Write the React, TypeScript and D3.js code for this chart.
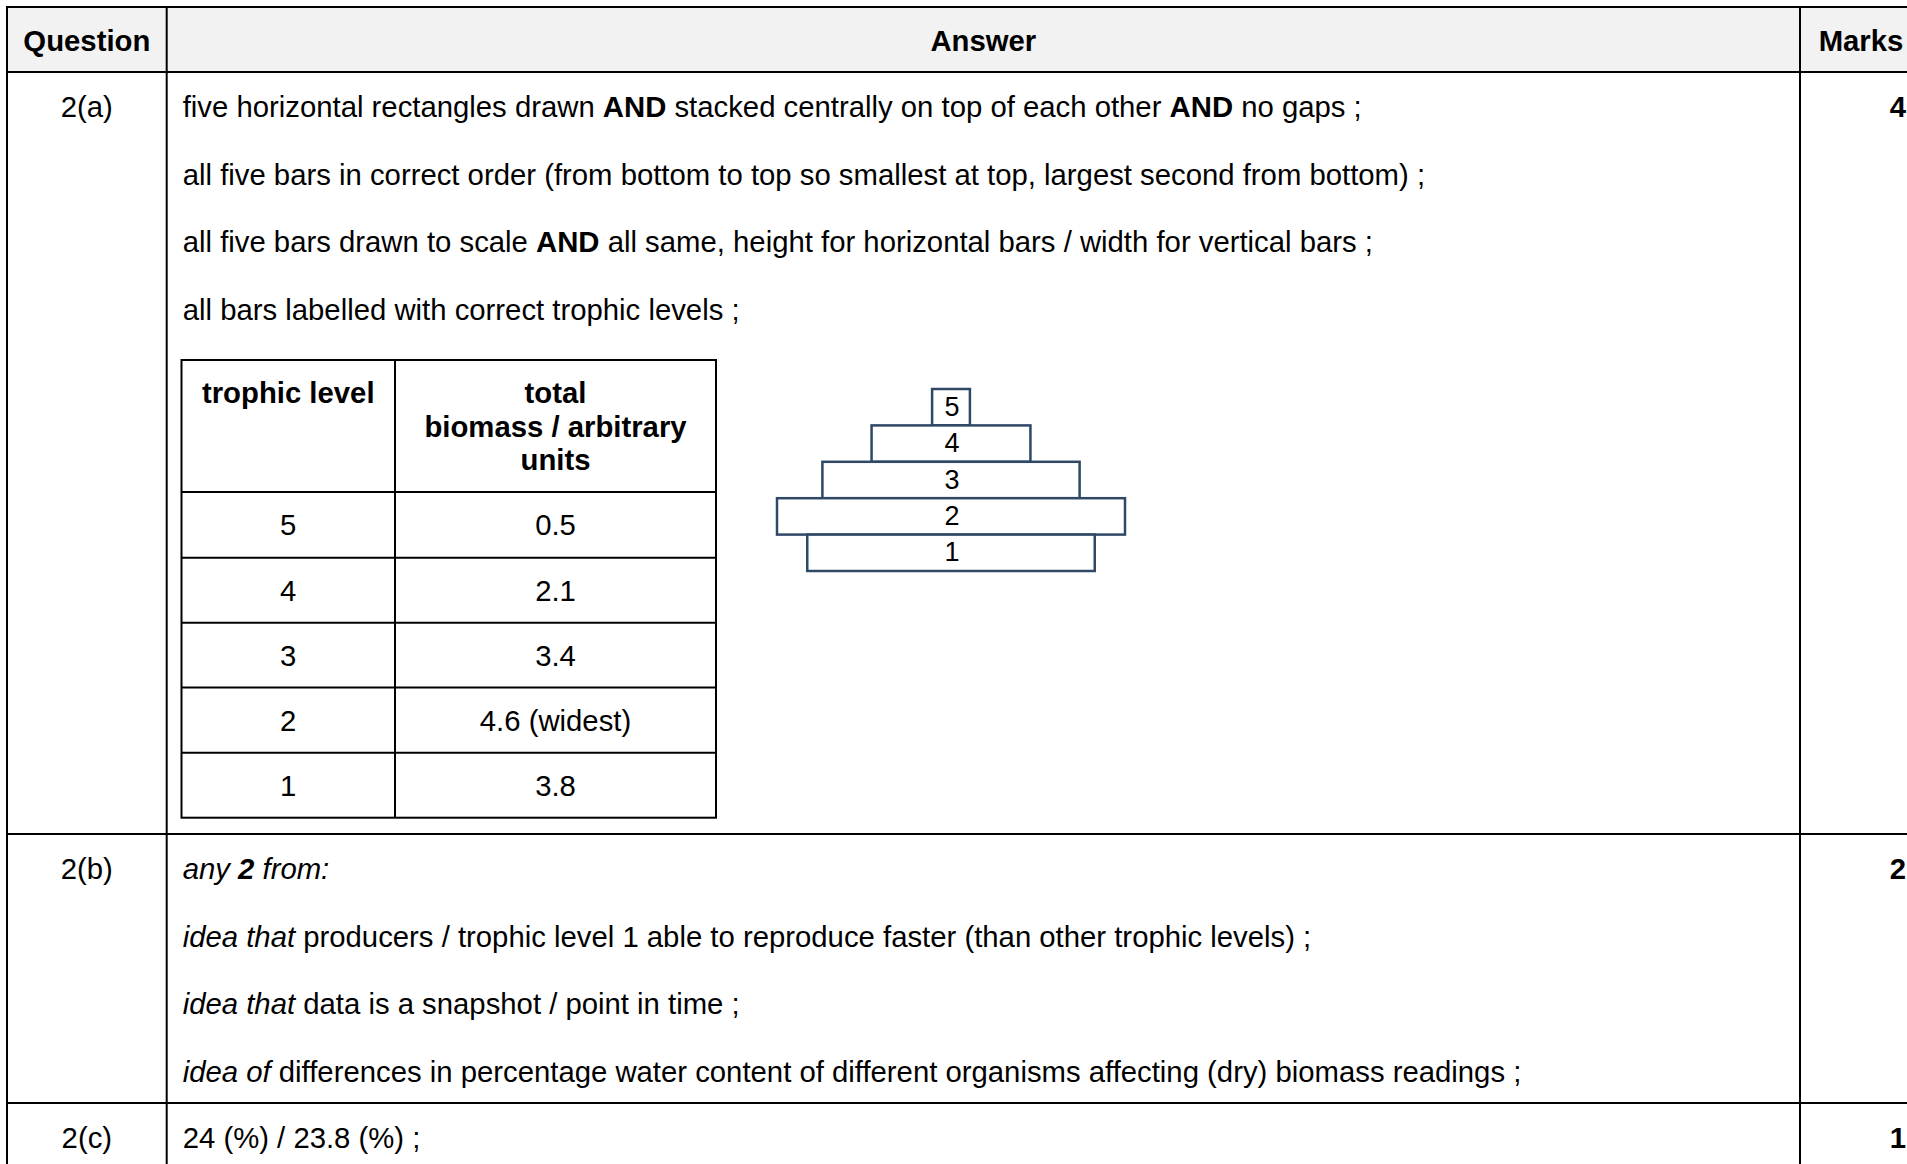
import React from "react";
import * as d3 from "d3";

// pyramid data (top to bottom)
const trophicLevels = [5, 4, 3, 2, 1];
const biomass = [0.5, 2.1, 3.4, 4.6, 3.8];
const biomassLabels = ["0.5", "2.1", "3.4", "4.6 (widest)", "3.8"];

type Seg = { t: string; b?: boolean; i?: boolean };

const headers = ["Question", "Answer", "Marks"];
const questions = ["2(a)", "2(b)", "2(c)"];
const marks = ["4", "2", "1"];

const answers2a: Seg[][] = [
    [
        { t: "five horizontal rectangles drawn " },
        { t: "AND", b: true },
        { t: " stacked centrally on top of each other " },
        { t: "AND", b: true },
        { t: " no gaps ;" }
    ],
    [{ t: "all five bars in correct order (from bottom to top so smallest at top, largest second from bottom) ;" }],
    [
        { t: "all five bars drawn to scale " },
        { t: "AND", b: true },
        { t: " all same, height for horizontal bars / width for vertical bars ;" }
    ],
    [{ t: "all bars labelled with correct trophic levels ;" }]
];

const answers2b: Seg[][] = [
    [{ t: "any ", i: true }, { t: "2", i: true, b: true }, { t: " from:", i: true }],
    [{ t: "idea that", i: true }, { t: " producers / trophic level 1 able to reproduce faster (than other trophic levels) ;" }],
    [{ t: "idea that", i: true }, { t: " data is a snapshot / point in time ;" }],
    [{ t: "idea of", i: true }, { t: " differences in percentage water content of different organisms affecting (dry) biomass readings ;" }]
];

const answers2c: Seg[][] = [[{ t: "24 (%) / 23.8 (%) ;" }]];

const W = 1907;
const H = 1164;
const FONT = "'Liberation Sans', Arial, sans-serif";
const FS = 29.3;

// outer table geometry
const colX = [7, 166.7, 1800, 1922];
const rowY = [7, 72, 834, 1103, 1200];
const lineGap = 67.6;
const firstBase = 45;

const Line: React.FC<{ segs: Seg[]; x: number; y: number }> = ({ segs, x, y }) => (
    <text x={x} y={y} fontSize={FS} fontFamily={FONT} fill="#000">
        {segs.map((s, i) => (
            <tspan key={i} fontWeight={s.b ? "bold" : "normal"} fontStyle={s.i ? "italic" : "normal"}>
                {s.t}
            </tspan>
        ))}
    </text>
);

const App: React.FC = () => {
    const rows = [answers2a, answers2b, answers2c];

    // inner data table
    const tX = [181.5, 395, 716];
    const tY = [360, 492, 557.7, 622.7, 687.5, 752.7, 817.7];

    // pyramid scales
    const cx = 951;
    const xw = d3.scaleLinear().domain([0, d3.max(biomass) || 1]).range([0, 348]);
    const yb = d3.scaleBand<number>().domain(trophicLevels).range([389, 571]).padding(0);

    return (
        <div style={{ position: "fixed", left: 0, top: 0, width: W, height: H, overflow: "hidden", background: "#fff" }}>
            <svg width={W} height={H} style={{ display: "block" }}>
                {/* header fill */}
                <rect x={colX[0]} y={rowY[0]} width={colX[3] - colX[0]} height={rowY[1] - rowY[0]} fill="#f2f2f2" />

                {/* header text */}
                {headers.map((h, i) => (
                    <text
                        key={h}
                        x={(colX[i] + colX[i + 1]) / 2}
                        y={51.2}
                        textAnchor="middle"
                        fontSize={FS}
                        fontWeight="bold"
                        fontFamily={FONT}
                    >
                        {h}
                    </text>
                ))}

                {/* body rows */}
                {rows.map((lines, r) => {
                    const top = rowY[r + 1];
                    return (
                        <g key={r}>
                            <text
                                x={(colX[0] + colX[1]) / 2}
                                y={top + firstBase}
                                textAnchor="middle"
                                fontSize={FS}
                                fontFamily={FONT}
                            >
                                {questions[r]}
                            </text>
                            {lines.map((segs, j) => (
                                <Line key={j} segs={segs} x={182.7} y={top + firstBase + j * lineGap} />
                            ))}
                            <text
                                x={1906}
                                y={top + firstBase}
                                textAnchor="end"
                                fontSize={FS}
                                fontWeight="bold"
                                fontFamily={FONT}
                            >
                                {marks[r]}
                            </text>
                        </g>
                    );
                })}

                {/* outer grid lines */}
                {rowY.slice(0, 4).map((y, i) => (
                    <line key={"h" + i} x1={colX[0] - 1} x2={W + 20} y1={y} y2={y} stroke="#000" strokeWidth={2} />
                ))}
                {colX.map((x, i) => (
                    <line key={"v" + i} x1={x} x2={x} y1={rowY[0] - 1} y2={H + 20} stroke="#000" strokeWidth={2} />
                ))}

                {/* inner data table */}
                <g fontFamily={FONT} fontSize={FS}>
                    <rect x={tX[0]} y={tY[0]} width={tX[2] - tX[0]} height={tY[6] - tY[0]} fill="none" stroke="#000" strokeWidth={2} />
                    <line x1={tX[1]} x2={tX[1]} y1={tY[0]} y2={tY[6]} stroke="#000" strokeWidth={2} />
                    {tY.slice(1, 6).map((y, i) => (
                        <line key={i} x1={tX[0]} x2={tX[2]} y1={y} y2={y} stroke="#000" strokeWidth={2} />
                    ))}
                    <text x={(tX[0] + tX[1]) / 2} y={403} textAnchor="middle" fontWeight="bold">trophic level</text>
                    {["total", "biomass / arbitrary", "units"].map((s, i) => (
                        <text key={s} x={(tX[1] + tX[2]) / 2} y={403 + i * 33.5} textAnchor="middle" fontWeight="bold">
                            {s}
                        </text>
                    ))}
                    {trophicLevels.map((lv, i) => {
                        const mid = (tY[i + 1] + tY[i + 2]) / 2 + 10.6;
                        return (
                            <g key={lv}>
                                <text x={(tX[0] + tX[1]) / 2} y={mid} textAnchor="middle">{lv}</text>
                                <text x={(tX[1] + tX[2]) / 2} y={mid} textAnchor="middle">{biomassLabels[i]}</text>
                            </g>
                        );
                    })}
                </g>

                {/* pyramid of biomass */}
                <g>
                    {trophicLevels.map((lv, i) => {
                        const w = xw(biomass[i]);
                        const y = yb(lv) || 0;
                        return (
                            <g key={lv}>
                                <rect
                                    x={cx - w / 2}
                                    y={y}
                                    width={w}
                                    height={yb.bandwidth()}
                                    fill="#fff"
                                    stroke="#2e4865"
                                    strokeWidth={2.5}
                                />
                                <text
                                    x={cx + 1}
                                    y={y + yb.bandwidth() / 2 + 8.5}
                                    textAnchor="middle"
                                    fontSize={27}
                                    fontFamily={FONT}
                                >
                                    {lv}
                                </text>
                            </g>
                        );
                    })}
                </g>
            </svg>
        </div>
    );
};

export default App;
